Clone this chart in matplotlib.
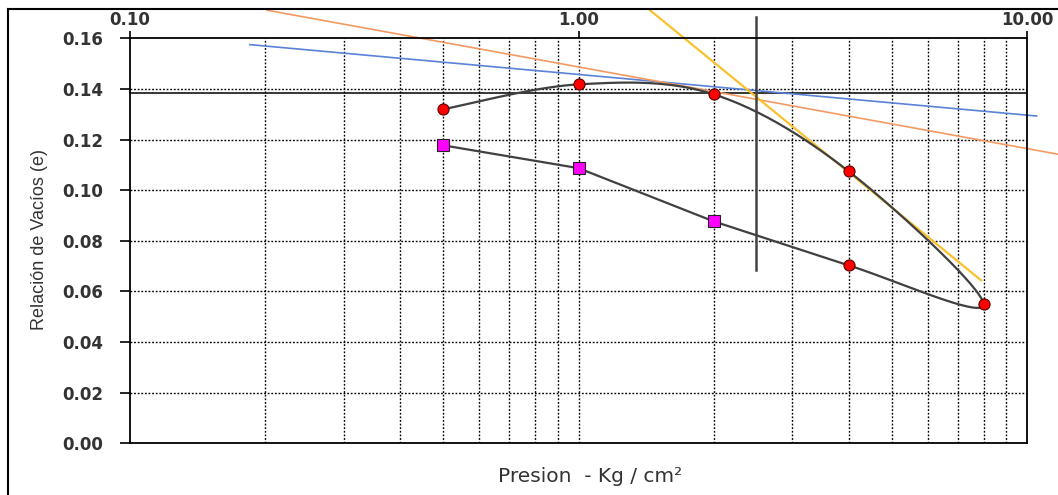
import numpy as np
import matplotlib
matplotlib.use("Agg")
import matplotlib.pyplot as plt
from matplotlib.lines import Line2D

# ---- data ----
load_p = [0.5, 1.0, 2.0, 4.0, 8.0]
load_e = [0.132, 0.1418, 0.1379, 0.1075, 0.0549]
reload_p = [4.0]
reload_e = [0.0703]
unload_p = [2.0, 1.0, 0.5]
unload_e = [0.0877, 0.1087, 0.1177]

# construction lines (endpoints, data coords)
horiz_e = 0.1382
blue_p = [0.185, 10.5]
blue_e = [0.1575, 0.1293]
orange_p = [0.202, 11.73]
orange_e = [0.1711, 0.1142]
yellow_p = [1.443, 7.90]
yellow_e = [0.1711, 0.0644]
pc = 2.484
pc_e = [0.0684, 0.1686]

xticks = [0.1, 1.0, 10.0]
xticklabels = ["0.10", "1.00", "10.00"]
yticks = [0.0, 0.02, 0.04, 0.06, 0.08, 0.10, 0.12, 0.14, 0.16]

fig = plt.figure(figsize=(10.58, 4.95), dpi=100)
ax = fig.add_axes([130/1058, 1-443.3/495, (1027-130)/1058, (443.3-38.3)/495])
ax.set_xscale("log")
ax.set_xlim(0.1, 10)
ax.set_ylim(0, 0.16)

# figure border (top and left edges visible)
fig.lines.append(Line2D([8/1058, 1.01], [1-9/495, 1-9/495], transform=fig.transFigure,
                        color="black", lw=1.5))
fig.lines.append(Line2D([8/1058, 8/1058], [-0.01, 1-9/495], transform=fig.transFigure,
                        color="black", lw=1.5))

# grid
dot = (0, (1.3, 1.3))
for yv in yticks[1:-1]:
    ax.axhline(yv, color="black", lw=1.0, ls=dot, zorder=1)
minors = [k * d for d in (0.1, 1.0) for k in range(2, 10)] + [1.0]
for xv in minors:
    ax.axvline(xv, color="black", lw=1.0, ls=dot, zorder=1)

# smooth curve: loading branch + rebound point (Catmull-Rom in display-proportional space),
# then straight segments for the unloading branch
seq_p = load_p + reload_p + unload_p
seq_e = load_e + reload_e + unload_e
u = (np.log10(seq_p) + 1) * 448.5
v = np.array(seq_e) * 2531.0
P = np.column_stack([u, v])
Pext = np.vstack([P[0], P])
n_smooth = len(load_p) + len(reload_p)  # number of points on the smooth part
cu, cv = [], []
for i in range(1, n_smooth):
    p0, p1, p2, p3 = Pext[i-1], Pext[i], Pext[i+1], Pext[i+2]
    for t in np.linspace(0, 1, 60, endpoint=False):
        t2, t3 = t*t, t*t*t
        pt = 0.5 * ((2*p1) + (-p0 + p2)*t + (2*p0 - 5*p1 + 4*p2 - p3)*t2 + (-p0 + 3*p1 - 3*p2 + p3)*t3)
        cu.append(pt[0]); cv.append(pt[1])
for k in range(n_smooth - 1, len(P)):
    cu.append(P[k, 0]); cv.append(P[k, 1])
cu = np.array(cu); cv = np.array(cv)
ax.plot(10 ** (cu / 448.5 - 1), cv / 2531.0, color="#404040", lw=1.6, zorder=3)

# construction lines
ax.axhline(horiz_e, color="black", lw=1.1, zorder=2)
ax.plot(blue_p, blue_e, color="#5a82d8", lw=1.2, clip_on=False, zorder=2)
ax.plot(orange_p, orange_e, color="#f39a62", lw=1.2, clip_on=False, zorder=2)
ax.plot(yellow_p, yellow_e, color="#fbc02d", lw=1.6, clip_on=False, zorder=2)
ax.plot([pc, pc], pc_e, color="#444444", lw=1.8, clip_on=False, zorder=2)

# markers
ax.plot(load_p + reload_p, load_e + reload_e, ls="none", marker="o", ms=8,
        mfc="red", mec="#550000", mew=0.8, zorder=5, clip_on=False)
ax.plot(unload_p, unload_e, ls="none", marker="s", ms=8,
        mfc="#ff00ff", mec="#222222", mew=0.8, zorder=5, clip_on=False)

# axes styling
for s in ax.spines.values():
    s.set_color("black")
    s.set_linewidth(1.3)
ax.xaxis.tick_top()
ax.set_xticks(xticks)
ax.set_xticklabels(xticklabels)
ax.xaxis.set_minor_locator(matplotlib.ticker.NullLocator())
ax.set_yticks(yticks)
ax.set_yticklabels([f"{t:.2f}" for t in yticks])
ax.tick_params(axis="x", which="major", direction="out", length=5, width=1.2, pad=2,
               labelsize=12, labelcolor="#333333")
ax.tick_params(axis="y", direction="out", length=7, width=1.2, pad=12,
               labelsize=12, labelcolor="#333333")
for lab in ax.get_xticklabels() + ax.get_yticklabels():
    lab.set_fontfamily("DejaVu Sans")
    lab.set_fontweight("bold")

fig.text(590/1058, 1-477/495, "Presion  - Kg / cm²", ha="center", va="center",
         fontsize=14.5, color="#333333", family="DejaVu Sans")
fig.text(40/1058, 1-240/495, "Relación de Vacíos (e)", ha="center", va="center",
         rotation=90, fontsize=13, color="#333333", family="Liberation Sans")

fig.savefig("out.png", dpi=100)
